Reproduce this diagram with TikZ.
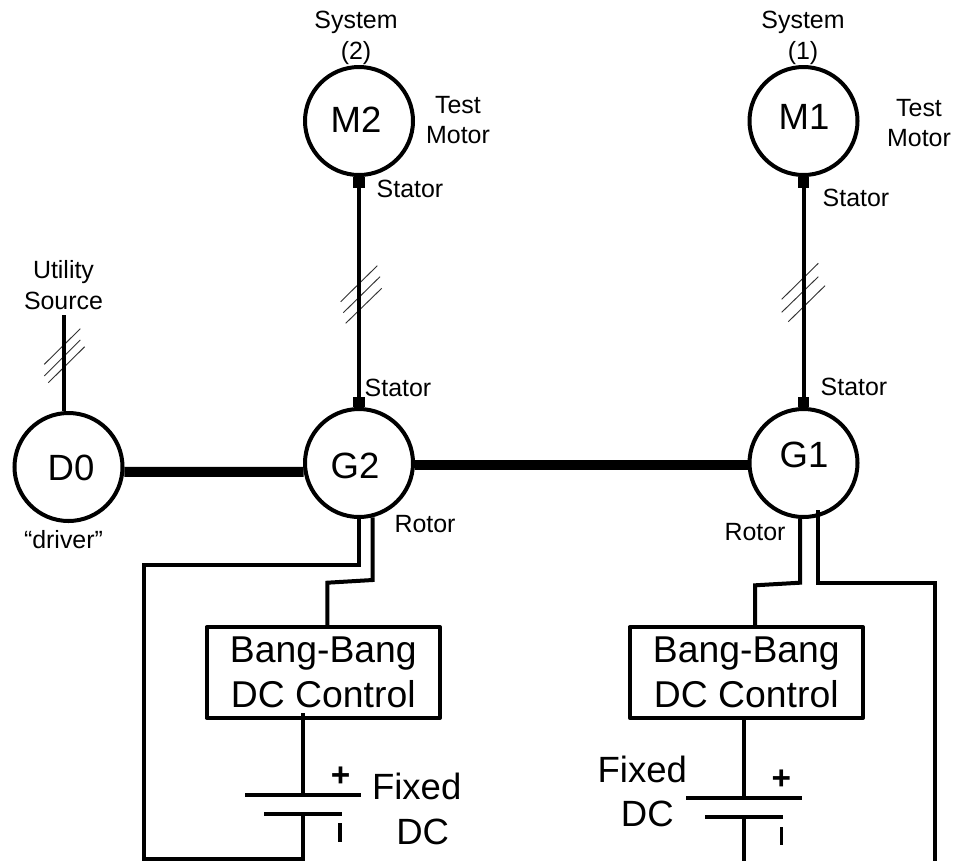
\documentclass[tikz,border=0pt]{standalone}
\usepackage{fontspec}
\setmainfont{Liberation Sans}
\begin{document}
\begin{tikzpicture}[x=0.75pt,y=-0.75pt,
  wire/.style={line width=3pt,line join=miter},
  ring/.style={circle,draw,line width=3pt,minimum size=81pt,inner sep=0pt},
  hatch/.style={line width=0.7pt,black!80},
  shaft/.style={line width=7.5pt},
  term/.style={line width=8.5pt},
  plate/.style={line width=3pt},
  bar/.style={line width=2.6pt},
  ctrl/.style={draw,line width=3pt,line join=round,minimum width=175pt,minimum height=68pt,inner sep=0pt,align=center,font=\fontsize{28}{34}\selectfont},
  small/.style={font=\fontsize{18.7}{23}\selectfont,align=center,inner sep=0pt},
  big/.style={font=\fontsize{27.4}{34}\selectfont,align=center,inner sep=0pt},
  sign/.style={font=\bfseries\fontsize{25}{25}\selectfont,inner sep=0pt}]
\useasboundingbox (0,0) rectangle (953,861);
% machines
\node[ring] (M2) at (359,121) {};
\node[ring] (M1) at (803.5,121) {};
\node[ring] (G2) at (359,463) {};
\node[ring] (G1) at (803.5,463) {};
\node[ring] (D0) at (68.5,467) {};
\node[big] (tM2) at (356,120) {M2};
\node[big] (tM1) at (804,117) {M1};
\node[big] (tG2) at (355,466) {G2};
\node[big] (tG1) at (804,455) {G1};
\node[big] (tD0) at (71,468) {D0};
% controls
\node[ctrl] (B2) at (323.3,672.5) {Bang-Bang\\DC Control};
\node[ctrl] (B1) at (746.3,672.5) {Bang-Bang\\DC Control};
% hatches
\draw[hatch] (340.7,301.7)--(377.3,265.7) (343.3,312.7)--(380,276.7) (345.7,323.3)--(381.7,288.3);
\draw[hatch] (44.3,364.3)--(80.3,328.7) (44.3,376)--(80.3,340) (48.3,382.7)--(84.7,346.7);
\draw[hatch] (781.7,299.3)--(818.3,263.3) (781.7,312.3)--(818.3,276.7) (788.3,321.7)--(825,285.7);
% stator links
\draw[wire] (M2.south) -- (G2.north);
\draw[wire] (M1.south) -- (G1.north);
\draw[term] (M2.south) -- ++(0,11);
\draw[term] (M1.south) -- ++(0,11);
\draw[term] (G2.north) -- ++(0,-10);
\draw[term] (G1.north) -- ++(0,-10);
% utility
\coordinate (U) at (63.5,315);
\draw[wire] (U) -- (U |- D0.95);
% shafts
\draw[shaft] (D0.-5.3) -- (G2.189.6);
\draw[shaft] (G2.-2) -- (G1.182);
% batteries
\coordinate (T2) at (302.7,795);
\coordinate (L2) at (302.7,814);
\coordinate (S2) at (302.7,713);
\coordinate (T1) at (743.7,798);
\coordinate (L1) at (743.7,817);
\coordinate (E1) at (743.7,861);
\draw[plate] (245,795) -- (360.7,795);
\draw[plate] (264,814) -- (341.7,814);
\draw[plate] (686,798) -- (801.7,798);
\draw[plate] (705,817) -- (782.7,817);
\draw[wire] (S2) -- (T2);
\draw[wire] (B1.south -| T1) -- (T1);
\draw[wire] (L1) -- (E1);
% rotor G2
\coordinate (W2) at (372.7,580);
\draw[wire] (G2.south) |- (143.5,564.5) |- (302.7,859) -- (L2);
\draw[wire] (W2 |- G2.-76) -- (W2) -- (327.3,582.7) -- (327.3,582.7 |- B2.north);
% rotor G1
\coordinate (W1) at (800,582.7);
\coordinate (R1) at (818,510);
\draw[wire] (W1 |- G1.-94) -- (W1) -- (755,585.3) -- (755,585.3 |- B1.north);
\draw[wire] (R1) |- (935,582.7) -- (935,861);
% signs
\node[sign] (p2) at (340.7,776.7) {+};
\node[sign] (p1) at (781.3,779.3) {+};
\draw[bar] (340,823) -- (340,841.7);
\draw[bar] (781.3,827) -- (781.3,845);
% big labels
\node[big] (f2) at (416.7,786.7) {Fixed};
\node[big] (d2) at (422.7,831.7) {DC};
\node[big] (f1) at (642.3,769.3) {Fixed};
\node[big] (d1) at (647.3,814) {DC};
% small labels
\node[small] (s2) at (356,38) {System\\(2)};
\node[small] (s1) at (803,38) {System\\(1)};
\node[small] (tm2) at (458,120) {Test\\Motor};
\node[small] (tm1) at (919,123) {Test\\Motor};
\node[small] (st1) at (410,189) {Stator};
\node[small] (st2) at (856,198) {Stator};
\node[small] (st3) at (398,388) {Stator};
\node[small] (st4) at (854,387) {Stator};
\node[small] (r2) at (425,524) {Rotor};
\node[small] (r1) at (755,532) {Rotor};
\node[small] (us) at (63.5,285) {Utility\\Source};
\node[small] (dr) at (63.5,540) {“driver”};
\end{tikzpicture}
\end{document}
